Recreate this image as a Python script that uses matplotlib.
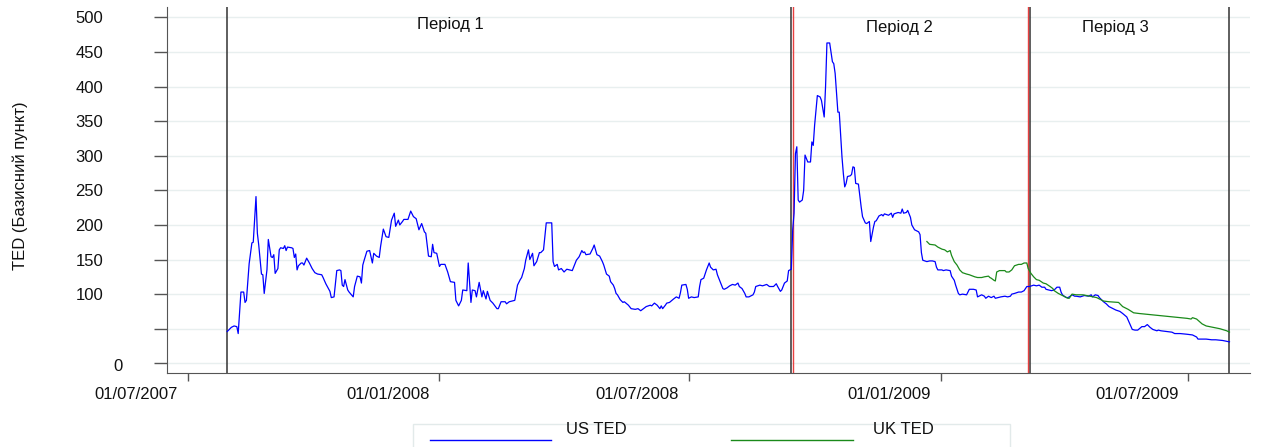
"""Спред TED (США та Великобританія) з розбиттям на три періоди."""

import matplotlib

matplotlib.use("Agg")
import matplotlib.dates as mdates  # осі з датами
import matplotlib.pyplot as plt  # графіка
import matplotlib.transforms as mtransforms
import pandas as pd
from matplotlib.lines import Line2D
from matplotlib.patches import Rectangle

plt.rcParams["font.family"] = ["Liberation Sans", "DejaVu Sans"]

# US TED, базисні пункти
us_dates = [
    "2007-07-30", "2007-08-02", "2007-08-04", "2007-08-06", "2007-08-07", "2007-08-09", "2007-08-11", "2007-08-12",
    "2007-08-13", "2007-08-15", "2007-08-17", "2007-08-18", "2007-08-20", "2007-08-21", "2007-08-22", "2007-08-24",
    "2007-08-25", "2007-08-26", "2007-08-28", "2007-08-29", "2007-08-31", "2007-09-01", "2007-09-02", "2007-09-03",
    "2007-09-05", "2007-09-06", "2007-09-07", "2007-09-09", "2007-09-10", "2007-09-11", "2007-09-12", "2007-09-15",
    "2007-09-16", "2007-09-17", "2007-09-18", "2007-09-19", "2007-09-20", "2007-09-22", "2007-09-23", "2007-09-24",
    "2007-09-25", "2007-09-26", "2007-09-28", "2007-09-30", "2007-10-02", "2007-10-04", "2007-10-07", "2007-10-08",
    "2007-10-10", "2007-10-13", "2007-10-14", "2007-10-16", "2007-10-18", "2007-10-20", "2007-10-21", "2007-10-22",
    "2007-10-23", "2007-10-24", "2007-10-26", "2007-10-27", "2007-10-30", "2007-10-31", "2007-11-02", "2007-11-04",
    "2007-11-05", "2007-11-06", "2007-11-07", "2007-11-09", "2007-11-11", "2007-11-13", "2007-11-14", "2007-11-16",
    "2007-11-18", "2007-11-19", "2007-11-21", "2007-11-23", "2007-11-25", "2007-11-27", "2007-11-29", "2007-11-30",
    "2007-12-02", "2007-12-03", "2007-12-05", "2007-12-06", "2007-12-09", "2007-12-11", "2007-12-13", "2007-12-15",
    "2007-12-17", "2007-12-19", "2007-12-21", "2007-12-22", "2007-12-24", "2007-12-26", "2007-12-27", "2007-12-28",
    "2007-12-30",
    "2008-01-01", "2008-01-02", "2008-01-05", "2008-01-07", "2008-01-09", "2008-01-12", "2008-01-13", "2008-01-15",
    "2008-01-17", "2008-01-18", "2008-01-21", "2008-01-22", "2008-01-24", "2008-01-25", "2008-01-27", "2008-01-28",
    "2008-01-30", "2008-02-01", "2008-02-02", "2008-02-04", "2008-02-05", "2008-02-07", "2008-02-09", "2008-02-12",
    "2008-02-13", "2008-02-15", "2008-02-18", "2008-02-19", "2008-02-21", "2008-02-25", "2008-02-27", "2008-02-29",
    "2008-03-01", "2008-03-03", "2008-03-04", "2008-03-06", "2008-03-07", "2008-03-09", "2008-03-10", "2008-03-12",
    "2008-03-14", "2008-03-15", "2008-03-17", "2008-03-19", "2008-03-23", "2008-03-24", "2008-03-25", "2008-03-27",
    "2008-03-28", "2008-03-30", "2008-04-01", "2008-04-03", "2008-04-05", "2008-04-07", "2008-04-10", "2008-04-12",
    "2008-04-14", "2008-04-15", "2008-04-16", "2008-04-17", "2008-04-20", "2008-04-22", "2008-04-23", "2008-04-25",
    "2008-04-27", "2008-04-29", "2008-04-30", "2008-05-02", "2008-05-04", "2008-05-05", "2008-05-07", "2008-05-08",
    "2008-05-09", "2008-05-10", "2008-05-12", "2008-05-14", "2008-05-15", "2008-05-18", "2008-05-20", "2008-05-23",
    "2008-05-25", "2008-05-27", "2008-05-29", "2008-05-31", "2008-06-03", "2008-06-04", "2008-06-06", "2008-06-08",
    "2008-06-10", "2008-06-11", "2008-06-12", "2008-06-14", "2008-06-15", "2008-06-17", "2008-06-20", "2008-06-22",
    "2008-06-24", "2008-06-25", "2008-06-26", "2008-06-29", "2008-06-30", "2008-07-01", "2008-07-03", "2008-07-05",
    "2008-07-08", "2008-07-09", "2008-07-10", "2008-07-12", "2008-07-14", "2008-07-16", "2008-07-17", "2008-07-19",
    "2008-07-21", "2008-07-22", "2008-07-24", "2008-07-26", "2008-07-27", "2008-07-29", "2008-07-31", "2008-08-02",
    "2008-08-04", "2008-08-06", "2008-08-07", "2008-08-09", "2008-08-11", "2008-08-12", "2008-08-14", "2008-08-17",
    "2008-08-18", "2008-08-19", "2008-08-22", "2008-08-24", "2008-08-27", "2008-08-29", "2008-09-01", "2008-09-03",
    "2008-09-04", "2008-09-06", "2008-09-07", "2008-09-09", "2008-09-11", "2008-09-12", "2008-09-14",
    "2008-09-15", "2008-09-16", "2008-09-17", "2008-09-18", "2008-09-19", "2008-09-20", "2008-09-22", "2008-09-23",
    "2008-09-24", "2008-09-26", "2008-09-28", "2008-09-29", "2008-09-30", "2008-10-01", "2008-10-03", "2008-10-05",
    "2008-10-06", "2008-10-08", "2008-10-09", "2008-10-10", "2008-10-12", "2008-10-14", "2008-10-15", "2008-10-16",
    "2008-10-18", "2008-10-19", "2008-10-21", "2008-10-22", "2008-10-23", "2008-10-24", "2008-10-25", "2008-10-27",
    "2008-10-28", "2008-10-29", "2008-10-30", "2008-10-31", "2008-11-02", "2008-11-04", "2008-11-05", "2008-11-07",
    "2008-11-08", "2008-11-10", "2008-11-11", "2008-11-13", "2008-11-14", "2008-11-15", "2008-11-17", "2008-11-19",
    "2008-11-20", "2008-11-21", "2008-11-24", "2008-11-26", "2008-11-27", "2008-11-28", "2008-12-01", "2008-12-03",
    "2008-12-04", "2008-12-05", "2008-12-07", "2008-12-08", "2008-12-10", "2008-12-11", "2008-12-13", "2008-12-16",
    "2008-12-17", "2008-12-18", "2008-12-19", "2008-12-22", "2008-12-24", "2008-12-26", "2008-12-28", "2008-12-29",
    "2008-12-30",
    "2009-01-02", "2009-01-03", "2009-01-05", "2009-01-08", "2009-01-09", "2009-01-11", "2009-01-12", "2009-01-14",
    "2009-01-15", "2009-01-17", "2009-01-20", "2009-01-22", "2009-01-25", "2009-01-27", "2009-01-28", "2009-01-31",
    "2009-02-02", "2009-02-03", "2009-02-05", "2009-02-07", "2009-02-09", "2009-02-10", "2009-02-12", "2009-02-14",
    "2009-02-17", "2009-02-19", "2009-02-21", "2009-02-22", "2009-02-24", "2009-02-27", "2009-03-01", "2009-03-03",
    "2009-03-05", "2009-03-07", "2009-03-10", "2009-03-12", "2009-03-14", "2009-03-16", "2009-03-18", "2009-03-19",
    "2009-03-23", "2009-03-25", "2009-03-27", "2009-03-29", "2009-03-30", "2009-03-31", "2009-04-02", "2009-04-03",
    "2009-04-04", "2009-04-05", "2009-04-07", "2009-04-09", "2009-04-10", "2009-04-13", "2009-04-16", "2009-04-19",
    "2009-04-21", "2009-04-22", "2009-04-24", "2009-04-26", "2009-04-27", "2009-04-30", "2009-05-02", "2009-05-04",
    "2009-05-07", "2009-05-09", "2009-05-12", "2009-05-14", "2009-05-17", "2009-05-19", "2009-05-21", "2009-05-23",
    "2009-05-25", "2009-05-28", "2009-05-30", "2009-06-01", "2009-06-03", "2009-06-05", "2009-06-08", "2009-06-09",
    "2009-06-11", "2009-06-15", "2009-06-19", "2009-06-21", "2009-06-25", "2009-06-30", "2009-07-04", "2009-07-07",
    "2009-07-08", "2009-07-11", "2009-07-14", "2009-07-18", "2009-07-21", "2009-07-26", "2009-07-31",
]
us_ted = [
    46, 52, 54, 53, 43, 103, 103, 88, 91, 144, 174, 175, 241, 188, 171, 129,
    128, 101, 135, 179, 154, 153, 157, 130, 137, 164, 167, 166, 170, 163, 168, 167,
    166, 153, 158, 135, 141, 145, 145, 142, 147, 152, 145, 137, 131, 129, 128, 124,
    115, 104, 95, 96, 134, 135, 134, 113, 111, 121, 106, 103, 96, 111, 126, 125,
    116, 142, 149, 162, 163, 145, 159, 155, 153, 169, 194, 183, 182, 207, 217, 198,
    207, 200, 205, 208, 208, 220, 212, 209, 193, 202, 190, 188, 155, 154, 172, 160,
    159,
    140, 143, 143, 132, 118, 117, 91, 83, 91, 106, 105, 145, 88, 106, 105, 96,
    117, 96, 105, 93, 104, 91, 87, 79, 79, 89, 89, 86, 89, 91, 113, 121,
    124, 137, 149, 164, 150, 159, 141, 147, 160, 160, 164, 203, 203, 147, 140, 143,
    135, 137, 132, 136, 135, 134, 149, 154, 163, 160, 161, 157, 158, 166, 171, 157,
    155, 147, 142, 129, 126, 118, 113, 108, 101, 99, 92, 88, 89, 84, 79, 78,
    79, 76, 79, 82, 84, 83, 87, 84, 79, 83, 79, 84, 87, 88, 93, 96,
    94, 102, 113, 114, 107, 94, 96, 95, 96, 111, 121, 123, 135, 145, 139, 135,
    136, 128, 118, 108, 107, 109, 112, 114, 113, 116, 111, 108, 101, 96, 96, 99,
    103, 111, 113, 112, 114, 111, 111, 115, 111, 104, 106, 116, 119, 134, 136,
    193, 217, 303, 313, 236, 233, 236, 250, 301, 291, 291, 320, 315, 344, 387, 385,
    380, 356, 400, 463, 463, 436, 433, 419, 363, 363, 298, 274, 255, 260, 270, 271,
    273, 284, 283, 260, 259, 226, 212, 203, 202, 205, 176, 197, 205, 206, 213, 215,
    213, 216, 214, 217, 211, 216, 218, 217, 223, 217, 218, 221, 211, 200, 193, 190,
    186, 160, 149, 147, 148, 148, 147, 139, 135,
    135, 134, 135, 134, 126, 120, 113, 101, 99, 100, 99, 107, 107, 106, 96, 99,
    97, 94, 97, 95, 97, 94, 95, 96, 97, 96, 97, 100, 101, 103, 103, 105,
    111, 111, 113, 112, 113, 110, 110, 107, 105, 106, 110, 110, 103, 99, 96, 95,
    95, 96, 99, 97, 97, 96, 98, 97, 99, 96, 99, 98, 95, 89, 86, 82,
    79, 77, 75, 72, 67, 58, 49, 48, 48, 53, 53, 56, 52, 49, 47, 48,
    47, 46, 45, 43, 43, 42, 41, 38, 35, 35, 35, 34, 34, 33, 31,
]

# UK TED, базисні пункти
uk_dates = [
    "2008-12-22", "2008-12-24", "2008-12-28", "2008-12-30", "2009-01-02", "2009-01-04", "2009-01-06", "2009-01-08",
    "2009-01-09", "2009-01-11", "2009-01-13", "2009-01-15", "2009-01-17", "2009-01-20", "2009-01-22", "2009-01-26",
    "2009-01-28", "2009-01-31", "2009-02-02", "2009-02-05", "2009-02-06", "2009-02-07", "2009-02-09", "2009-02-10",
    "2009-02-11", "2009-02-13", "2009-02-17", "2009-02-18", "2009-02-20", "2009-02-22", "2009-02-24", "2009-02-27",
    "2009-03-01", "2009-03-03", "2009-03-05", "2009-03-06", "2009-03-08", "2009-03-10", "2009-03-12", "2009-03-14",
    "2009-03-17", "2009-03-19", "2009-03-22", "2009-03-24", "2009-03-25", "2009-03-28", "2009-03-30", "2009-04-02",
    "2009-04-04", "2009-04-05", "2009-04-07", "2009-04-10", "2009-04-15", "2009-04-20", "2009-04-25", "2009-04-30",
    "2009-05-04", "2009-05-11", "2009-05-14", "2009-05-18", "2009-05-22", "2009-05-26", "2009-05-31", "2009-06-05",
    "2009-06-10", "2009-06-15", "2009-06-20", "2009-06-25", "2009-06-30", "2009-07-03", "2009-07-04", "2009-07-07",
    "2009-07-11", "2009-07-14", "2009-07-19", "2009-07-24", "2009-07-29", "2009-07-31",
]
uk_ted = [
    176, 172, 171, 168, 165, 164, 161, 163, 156, 147, 142, 135, 131, 129, 128, 125,
    124, 124, 125, 126, 124, 123, 120, 119, 132, 134, 134, 132, 132, 135, 141, 143,
    143, 145, 145, 137, 130, 125, 121, 120, 116, 115, 111, 108, 105, 101, 99, 96,
    94, 94, 100, 99, 99, 97, 95, 90, 89, 88, 82, 78, 73, 72, 71, 70,
    69, 68, 67, 66, 65, 64, 66, 64, 57, 54, 52, 50, 47, 45,
]

# межі періодів
black_bounds = ["2007-07-30", "2008-09-14", "2009-03-07", "2009-07-31"]
red_bounds = ["2008-09-15", "2009-03-06"]

period_names = ["Період 1", "Період 2", "Період 3"]
period_name_dates = ["2008-01-09", "2008-12-02", "2009-05-09"]
period_name_levels = [490, 486, 486]

y_ticks = [0, 50, 100, 150, 200, 250, 300, 350, 400, 450, 500]
y_tick_labels = ["0", "", "100", "150", "200", "250", "300", "350", "400", "450", "500"]
x_ticks = ["2007-07-01", "2008-01-01", "2008-07-01", "2009-01-01", "2009-07-01"]
x_range = ["2007-06-16", "2009-08-15"]

series_names = ["US TED", "UK TED"]
series_colors = ["#0000ff", "#1a8a1a"]


def draw_legend(fig):
    """Рамка легенди під віссю X (у піксельних координатах полотна)."""
    W, H = 1261, 447

    def fx(px):
        return px / W

    def fy(py):
        return 1 - py / H

    fig.add_artist(
        Rectangle(
            (fx(413), fy(480)), fx(1010) - fx(413), fy(424) - fy(480),
            transform=fig.transFigure, facecolor="white", edgecolor="#e2eaea", lw=1,
        )
    )
    spots = [(430, 551, 596), (731, 853, 903)]
    for (x0, x1, xt), name, col in zip(spots, series_names, series_colors):
        fig.add_artist(Line2D([fx(x0), fx(x1)], [fy(440), fy(440)], transform=fig.transFigure, color=col, lw=1))
        fig.text(fx(xt), fy(429), name, ha="center", va="center", fontsize=12, color="#111111")


def main():
    """Побудова графіка та збереження у out.png."""
    fig = plt.figure(figsize=(12.61, 4.47), dpi=100)
    ax = fig.add_axes([167 / 1261, 1 - 373 / 447, (1250 - 167) / 1261, (373 - 7) / 447])

    # сітка
    for y in y_ticks:
        ax.axhline(y, color="#e8efef", lw=1, zorder=0)

    ax.plot(pd.to_datetime(us_dates), us_ted, color=series_colors[0], lw=0.9, zorder=3)
    ax.plot(pd.to_datetime(uk_dates), uk_ted, color=series_colors[1], lw=0.9, zorder=3)

    for d in black_bounds:
        ax.axvline(pd.Timestamp(d), color="#333333", lw=1.1, zorder=2)
    for d in red_bounds:
        ax.axvline(pd.Timestamp(d), color="#e84040", lw=1.0, zorder=2)

    for name, d, lvl in zip(period_names, period_name_dates, period_name_levels):
        ax.text(pd.Timestamp(d), lvl, name, ha="center", va="center", fontsize=12, color="#111111")

    ax.set_xlim(pd.Timestamp(x_range[0]), pd.Timestamp(x_range[1]))
    ax.set_ylim(-14, 515)

    for side in ["top", "right"]:
        ax.spines[side].set_visible(False)
    for side in ["left", "bottom"]:
        ax.spines[side].set_color("#555555")

    ax.set_yticks(y_ticks)
    ax.set_yticklabels(y_tick_labels)
    ax.tick_params(axis="y", direction="out", length=9.4, width=1, color="#555555", pad=36.5,
                   labelsize=12, labelcolor="#111111")

    ax.set_xticks(pd.to_datetime(x_ticks))
    ax.xaxis.set_major_formatter(mdates.DateFormatter("%d/%m/%Y"))
    ax.tick_params(axis="x", direction="out", length=5.8, width=1, color="#555555", pad=4,
                   labelsize=12, labelcolor="#111111")

    # підписи дат зсунуті ліворуч від поділок
    shift = mtransforms.ScaledTranslation(-10 / 100, 0, fig.dpi_scale_trans)
    for lbl in ax.get_xticklabels():
        lbl.set_ha("right")
        lbl.set_transform(lbl.get_transform() + shift)

    zero_shift = mtransforms.ScaledTranslation(19 / 100, -2 / 100, fig.dpi_scale_trans)
    zero_lbl = ax.get_yticklabels()[0]
    zero_lbl.set_transform(zero_lbl.get_transform() + zero_shift)

    ax.set_ylabel("TED (Базисний пункт)", fontsize=12, color="#111111")
    ax.yaxis.set_label_coords((28 - 167) / 1083, (373 - 186) / 366)

    draw_legend(fig)

    fig.savefig("out.png", dpi=100)


if __name__ == "__main__":
    main()
